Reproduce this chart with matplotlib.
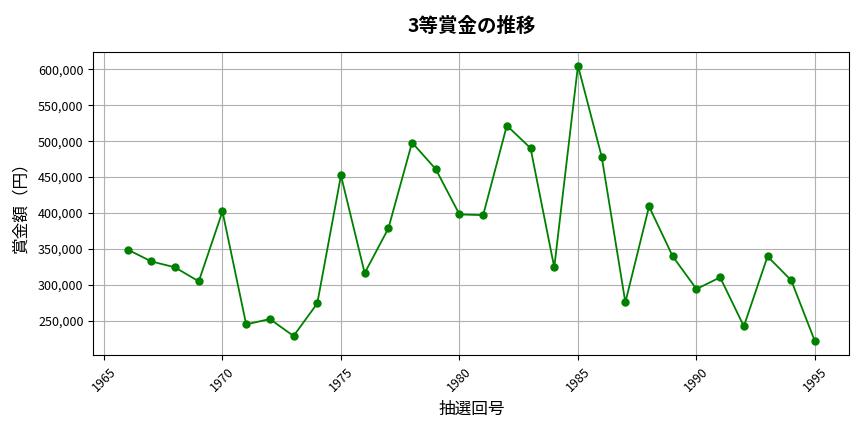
import matplotlib
matplotlib.use("Agg")
import matplotlib.pyplot as plt
from matplotlib.ticker import FuncFormatter

plt.rcParams['font.family'] = ['Noto Sans CJK JP', 'DejaVu Sans']

years = list(range(1966, 1996))
prize = [349000, 332600, 324300, 304800, 402100, 245000, 252400, 228800, 274200, 452200,
         316400, 378500, 498100, 461000, 398000, 397000, 521700, 490200, 324300, 605100,
         478600, 275600, 409100, 339600, 294200, 310400, 242300, 339600, 306200, 221400]

fig, ax = plt.subplots(figsize=(8.64, 4.32), dpi=100)

ax.plot(years, prize, marker='o', color='green', linewidth=1.3, markersize=5)
ax.set_title('3等賞金の推移', fontsize=14, fontweight='bold', pad=14)
ax.set_xlabel('抽選回号', fontsize=12, labelpad=5)
ax.set_ylabel('賞金額（円）', fontsize=12, labelpad=6)
ax.yaxis.set_major_formatter(FuncFormatter(lambda v, p: f'{int(v):,}'))
ax.tick_params(axis='x', labelrotation=45, labelsize=9)
ax.tick_params(axis='y', labelsize=9)
ax.grid(True, color='#b0b0b0', linewidth=0.8)

plt.subplots_adjust(left=0.108, right=0.983, top=0.880, bottom=0.178)
plt.savefig('out.png')
